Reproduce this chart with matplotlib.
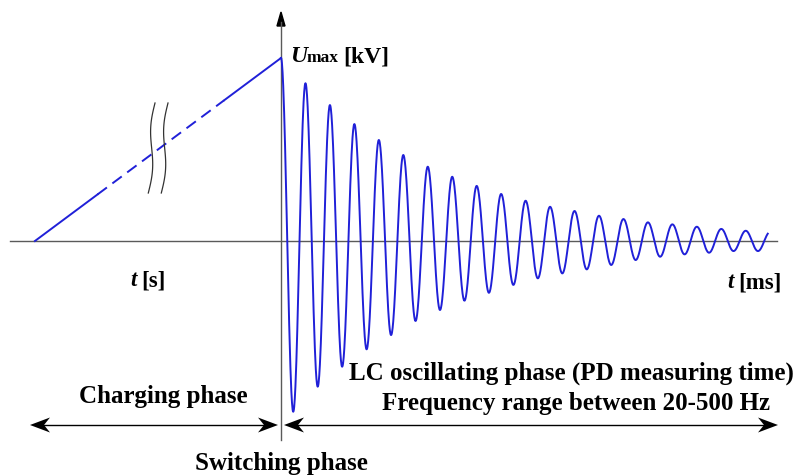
import numpy as np
import matplotlib.pyplot as plt
from matplotlib.patches import Polygon

# extremes of the LC oscillation as a fraction of Umax, one per half period
peaks = [1.0, 0.862, 0.743, 0.639, 0.552, 0.470, 0.406, 0.351, 0.301, 0.257,
         0.220, 0.187, 0.164, 0.138, 0.120, 0.102, 0.091, 0.078, 0.066, 0.056]
troughs = [-0.933, -0.796, -0.687, -0.592, -0.514, -0.437, -0.377, -0.326, -0.283, -0.240,
           -0.204, -0.177, -0.155, -0.131, -0.104, -0.086, -0.073, -0.064, -0.055, -0.055]
last_peak = 0.05   # value the curve is heading to when it stops
end_t = 19.9       # end of the trace, in oscillation periods

# charging ramp (x in oscillation periods, left of the switching instant)
ramp_t = [-10.06, 0.0]
ramp_u = [0.0, 1.0]
dash_from, dash_to = -7.5, -2.33

blue = '#2020d8'
grey = '#5a5a5a'
serif = 'Liberation Serif'

fig = plt.figure(figsize=(8, 4.75), dpi=100)
ax = fig.add_axes([0, 0, 1, 1])
ax.axis('off')
# 1 period = 24.46 px, Umax = 183 px, origin at pixel (281, 241)
ax.set_xlim(-281 / 24.46, (800 - 281) / 24.46)
ax.set_ylim((241 - 475) / 183, 241 / 183)


def P(x, y):
    # pixel position -> axes fraction
    return (x / 800, 1 - y / 475)


# axes
ax.axhline(0, xmin=10 / 800, xmax=777 / 800, color=grey, lw=1)
ax.axvline(0, ymin=1 - 440 / 475, ymax=1 - 22 / 475, color=grey, lw=1)
ax.add_patch(Polygon([P(281, 12), P(277, 26), P(285, 26)], closed=True,
                     transform=ax.transAxes, color='black'))

# charging ramp: solid - dashed - solid
seg_t = [ramp_t[0], dash_from, dash_to, ramp_t[1]]
seg_u = np.interp(seg_t, ramp_t, ramp_u)
ax.plot(seg_t[0:2], seg_u[0:2], color=blue, lw=1.4)
ax.plot(seg_t[1:3], seg_u[1:3], color=blue, lw=1.4, dashes=(6, 3.5))
ax.plot(seg_t[2:4], seg_u[2:4], color=blue, lw=1.4)

# oscillation: half cosine between successive extremes
ext = []
for p, q in zip(peaks, troughs):
    ext += [p, q]
ext.append(last_peak)
tt, uu = [], []
for i in range(len(ext) - 1):
    a, b = ext[i], ext[i + 1]
    t0 = 0.5 * i
    smax = 1.0
    if t0 + 0.5 > end_t:
        smax = (end_t - t0) / 0.5
    s = np.linspace(0, smax, 40)
    tt.append(t0 + 0.5 * s)
    uu.append((a + b) / 2 + (a - b) / 2 * np.cos(np.pi * s))
ax.plot(np.concatenate(tt), np.concatenate(uu), color=blue, lw=1.4)

# break marks on the ramp
u = np.linspace(0, 1, 60)
for x0 in (155, 168):
    xs = x0 - 6.7 * u - 2.5 * np.sin(2 * np.pi * u)
    ys = 103 + 90 * u
    ax.plot(xs / 800, 1 - ys / 475, transform=ax.transAxes, color='#333333', lw=0.9)


# double arrows with stealth heads
def head(xtip, y, d):
    L, W, N = 20, 7.5, 14
    pts = [P(xtip, y), P(xtip + d * L, y - W), P(xtip + d * N, y), P(xtip + d * L, y + W)]
    ax.add_patch(Polygon(pts, closed=True, transform=ax.transAxes, color='black', lw=0))


for x1, x2 in ((30, 278), (284, 778)):
    ax.plot([x1 / 800 + 0.01, x2 / 800 - 0.01], [1 - 425 / 475] * 2, transform=ax.transAxes,
            color='black', lw=1)
    head(x1, 425, 1)
    head(x2, 425, -1)

# texts
bold = dict(family=serif, fontweight='bold', transform=ax.transAxes)
ax.text(*P(163.5, 403), 'Charging phase', fontsize=18, ha='center', va='baseline', **bold)
ax.text(*P(281.5, 470), 'Switching phase', fontsize=18, ha='center', va='baseline', **bold)
ax.text(*P(571.5, 380), 'LC oscillating phase (PD measuring time)', fontsize=18,
        ha='center', va='baseline', **bold)
ax.text(*P(575.5, 410), 'Frequency range between 20-500 Hz', fontsize=18,
        ha='center', va='baseline', **bold)


def chain(x, y, parts):
    # parts: (text, size, italic, gap in px before it) on one baseline
    fig.canvas.draw()
    r = fig.canvas.get_renderer()
    xf = x / 800
    for s, size, it, gap in parts:
        xf += gap / 800
        t = ax.text(xf, 1 - y / 475, s, fontsize=size, va='baseline', ha='left',
                    fontstyle='italic' if it else 'normal', **bold)
        bb = t.get_window_extent(renderer=r)
        xf = ax.transAxes.inverted().transform((bb.x1, 0))[0]


chain(290, 62, [('U', 17, True, 0), ('max', 12.5, False, 0), ('[kV]', 17, False, 4)])
chain(130, 286, [('t', 16.5, True, 0), ('[s]', 16.5, False, 5)])
chain(727, 288, [('t', 16.5, True, 0), ('[ms]', 16.5, False, 5)])

fig.savefig('out.png', dpi=100)
